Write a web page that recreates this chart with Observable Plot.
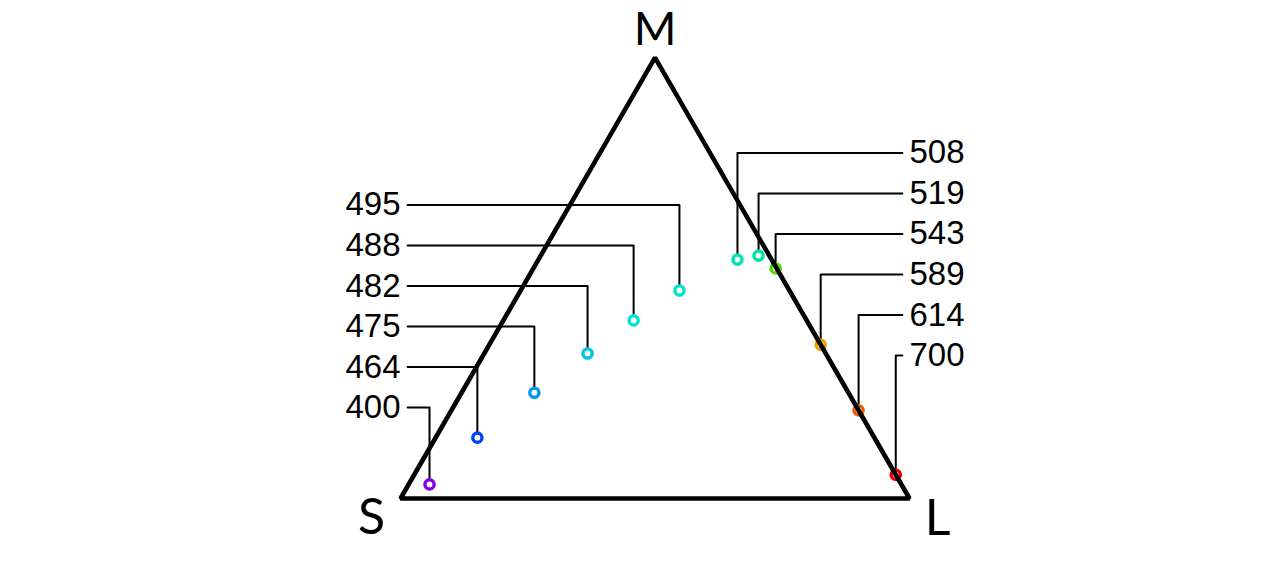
<!DOCTYPE html>
<html>
<head>
<meta charset="utf-8">
<script src="https://cdn.jsdelivr.net/npm/d3@7"></script>
<script src="https://cdn.jsdelivr.net/npm/@observablehq/plot@0.6"></script>
<style>
  html, body { margin: 0; padding: 0; background: #fff; }
  #chart svg { display: block; }
</style>
</head>
<body>
<div id="chart"></div>
<script>
// Wavelengths (nm) and their relative cone excitations (S, M, L fractions)
const wavelengths = [400, 464, 475, 482, 488, 495, 508, 519, 543, 589, 614, 700];
const sCone = [0.927, 0.780, 0.617, 0.468, 0.340, 0.216, 0.067, 0.021, 0.002, 0.000, 0.000, 0.000];
const mCone = [0.032, 0.138, 0.240, 0.329, 0.404, 0.472, 0.542, 0.551, 0.522, 0.349, 0.200, 0.054];
const lCone = [0.041, 0.082, 0.143, 0.203, 0.256, 0.312, 0.391, 0.428, 0.476, 0.651, 0.800, 0.946];
const colors = ["#8400e8", "#0044f0", "#0098e8", "#00c4e8", "#00e0e0", "#00e4cc",
                "#00e2b2", "#00e2a4", "#4cdc00", "#f0a000", "#f06000", "#f00000"];
const vertexNames = ["S", "M", "L"];

const H = Math.sqrt(3) / 2;
const toXY = (s, m, l) => ({x: l + m / 2, y: m * H});

const points = wavelengths.map((w, i) => ({
  w, color: colors[i], ...toXY(sCone[i], mCone[i], lCone[i]), side: w < 500 ? "left" : "right"
}));

// label rows
const left = points.filter(d => d.side === "left").sort((a, b) => a.w - b.w);
const right = points.filter(d => d.side === "right").sort((a, b) => b.w - a.w);
const step = 0.0796;
left.forEach((d, i) => { d.ly = 0.1788 + i * step; d.lx = 0; d.sx = 0.014; });
right.forEach((d, i) => { d.ly = 0.281 + i * step; d.lx = 1; d.sx = 0.986; });

const leaders = points.flatMap(d => [
  {w: d.w, x: d.sx, y: d.ly},
  {w: d.w, x: d.x, y: d.ly},
  {w: d.w, x: d.x, y: d.y}
]);

const vertices = vertexNames.map((n, i) => {
  const b = [0, 0, 0]; b[i] = 1;
  return {name: n, ...toXY(b[0], b[1], b[2])};
});
const vOffsets = {S: [-29, 19], M: [0, -27], L: [28, 20]};
const vSize = {S: 50, M: 46, L: 50};

const labelFont = {fontSize: 33, fontFamily: "Liberation Sans, Arial, sans-serif", fill: "black"};

const W = 1264, Ht = 562, ppu = 509;
const chart = Plot.plot({
  width: W, height: Ht,
  margin: 0,
  x: {domain: [-400 / ppu, (W - 400) / ppu], axis: null},
  y: {domain: [-(Ht - 498) / ppu, 498 / ppu], axis: null},
  marks: [
    Plot.line(leaders, {x: "x", y: "y", z: "w", stroke: "black", strokeWidth: 2}),
    Plot.dot(points, {x: "x", y: "y", r: 4.6, fill: "white", stroke: "color", strokeWidth: 3.4}),
    Plot.line(vertices, {x: "x", y: "y", curve: "linear-closed", stroke: "black", strokeWidth: 4.6, strokeLinejoin: "miter"}),
    Plot.text(left, {x: "lx", y: "ly", text: d => String(d.w), textAnchor: "end", ...labelFont}),
    Plot.text(right, {x: "lx", y: "ly", text: d => String(d.w), textAnchor: "start", ...labelFont}),
    ...vertices.map(v => Plot.text([v], {x: "x", y: "y", text: "name", dx: vOffsets[v.name][0], dy: vOffsets[v.name][1],
      fontSize: vSize[v.name], fontFamily: "Lato, sans-serif", fill: "black"}))
  ]
});
document.getElementById("chart").appendChild(chart);
</script>
</body>
</html>
